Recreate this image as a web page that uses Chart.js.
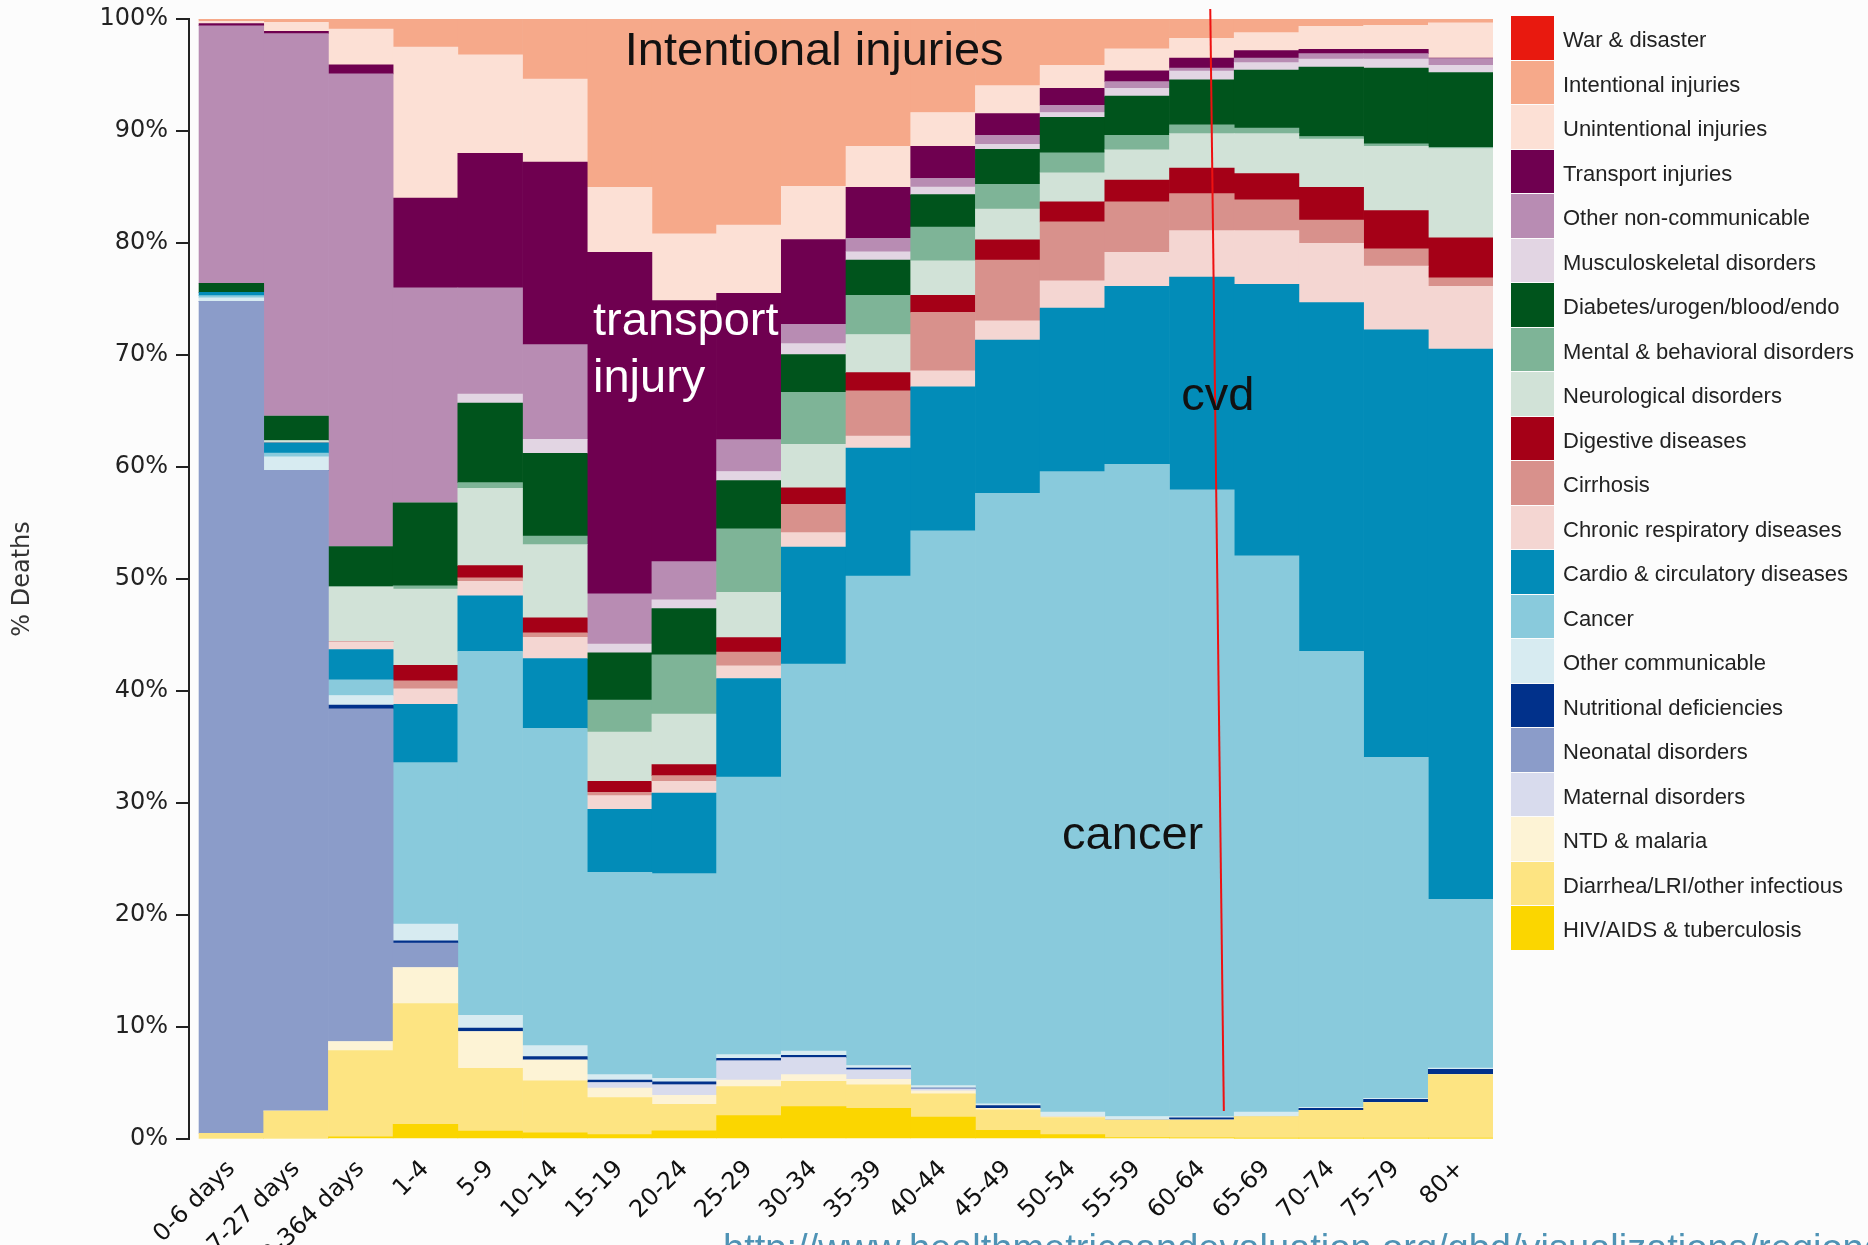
<!DOCTYPE html>
<html><head><meta charset="utf-8">
<script src="https://cdn.jsdelivr.net/npm/chart.js@4.4.1/dist/chart.umd.min.js"></script>
<style>
html,body{margin:0;padding:0;background:#fcfcfc;overflow:hidden;}
#wrap{position:relative;width:1868px;height:1245px;}
#legend{position:absolute;left:1511px;top:16px;font-family:"Liberation Sans",Arial,sans-serif;font-size:22px;color:#222;}
.li{display:flex;align-items:flex-start;height:44.5px;white-space:nowrap;}
.sw{width:43px;height:43.5px;margin-right:9px;flex:none;}
.tx{line-height:44px;position:relative;top:2px;}
</style></head><body>
<div id="wrap"><canvas id="c" width="1868" height="1245"></canvas><div id="legend"></div></div>
<script>
// ---------- DATA (% of deaths) ----------
const categories = ['0-6 days','7-27 days','28-364 days','1-4','5-9','10-14','15-19','20-24','25-29','30-34','35-39','40-44','45-49','50-54','55-59','60-64','65-69','70-74','75-79','80+'];

const hivTb        = [0, 0, 0.2, 1.3, 0.7, 0.55, 0.39, 0.72, 2.08, 2.89, 2.73, 1.95, 0.78, 0.39, 0.13, 0.1, 0.07, 0.07, 0.07, 0.07];
const diarrheaLri  = [0.5, 2.5, 7.7, 10.8, 5.6, 4.65, 3.31, 2.37, 2.6, 2.27, 2.11, 2.08, 1.82, 1.52, 1.56, 1.6, 1.94, 2.5, 3.18, 5.68];
const ntdMalaria   = [0, 0, 0.8, 3.2, 3.3, 1.85, 0.85, 0.81, 0.58, 0.59, 0.48, 0.26, 0.13, 0.1, 0, 0, 0, 0, 0, 0];
const maternal     = [0, 0, 0, 0, 0, 0, 0.48, 0.94, 1.72, 1.52, 0.85, 0.2, 0, 0, 0, 0, 0, 0, 0, 0];
const neonatal     = [74.3, 57.2, 29.7, 2.2, 0, 0, 0, 0, 0, 0, 0, 0, 0, 0, 0, 0, 0, 0, 0, 0];
const nutritional  = [0, 0, 0.35, 0.2, 0.3, 0.32, 0.23, 0.26, 0.22, 0.2, 0.16, 0.06, 0.26, 0, 0, 0.2, 0, 0.16, 0.29, 0.48];
const otherComm    = [0.3, 1.2, 0.85, 1.5, 1.15, 0.97, 0.49, 0.32, 0.33, 0.38, 0.23, 0.22, 0.16, 0.39, 0.32, 0.1, 0.39, 0.1, 0.1, 0.1];
const cancer       = [0.2, 0.35, 1.4, 14.4, 32.5, 28.33, 18.07, 18.27, 24.79, 34.56, 43.69, 49.53, 54.5, 57.19, 58.23, 55.97, 49.67, 40.72, 30.43, 15.06];
const cardio       = [0.3, 0.9, 2.7, 5.2, 4.95, 6.23, 5.61, 7.2, 8.79, 10.43, 11.45, 12.85, 13.69, 14.6, 15.9, 18.98, 24.23, 31.13, 38.18, 49.14];
const chronicResp  = [0, 0, 0.7, 1.4, 1.3, 1.9, 1.23, 1.04, 1.14, 1.3, 1.07, 1.43, 1.72, 2.44, 3.02, 4.16, 4.81, 5.29, 5.68, 5.61];
const cirrhosis    = [0, 0, 0, 0.7, 0.3, 0.4, 0.3, 0.52, 1.23, 2.53, 4.03, 5.22, 5.42, 5.25, 4.51, 3.3, 2.75, 2.08, 1.55, 0.75];
const digestive    = [0, 0, 0, 1.4, 1.1, 1.33, 0.97, 0.97, 1.3, 1.46, 1.62, 1.53, 1.81, 1.79, 1.95, 2.28, 2.34, 2.92, 3.41, 3.57];
const neurological = [0, 0.2, 4.9, 6.8, 6.9, 6.54, 4.41, 4.51, 4.02, 3.9, 3.41, 3.08, 2.73, 2.59, 2.69, 3.08, 3.57, 4.31, 5.74, 7.98];
const mental       = [0, 0, 0, 0.3, 0.5, 0.76, 2.86, 5.29, 5.67, 4.64, 3.5, 3.02, 2.21, 1.79, 1.3, 0.78, 0.48, 0.23, 0.23, 0.1];
const diabetes     = [0.8, 2.2, 3.6, 7.4, 7.1, 7.4, 4.2, 4.15, 4.31, 3.37, 3.15, 2.89, 3.14, 3.18, 3.5, 4.02, 5.2, 6.2, 6.75, 6.68];
const musculo      = [0, 0, 0, 0, 0.8, 1.25, 0.8, 0.78, 0.82, 0.97, 0.74, 0.68, 0.43, 0.42, 0.71, 0.78, 0.65, 0.71, 0.81, 0.65];
const otherNonComm = [23.0, 34.15, 42.2, 19.2, 9.5, 8.45, 4.47, 3.4, 2.85, 1.72, 1.2, 0.78, 0.81, 0.65, 0.59, 0.26, 0.42, 0.49, 0.49, 0.6];
const transport    = [0.2, 0.2, 0.8, 8.0, 12.0, 16.3, 30.5, 23.3, 13.05, 7.57, 4.55, 2.85, 1.94, 1.52, 0.97, 0.91, 0.65, 0.39, 0.39, 0.05];
const unintentional= [0.2, 0.8, 3.2, 13.5, 8.8, 7.4, 5.8, 5.96, 6.1, 4.76, 3.66, 3.02, 2.5, 2.05, 1.95, 1.75, 1.62, 2.04, 2.14, 3.14];
const intentional  = [0.2, 0.3, 0.9, 2.5, 3.2, 5.4, 15.0, 19.2, 18.4, 14.94, 11.37, 8.35, 5.95, 4.13, 2.67, 1.73, 1.21, 0.66, 0.56, 0.34];
const warDisaster  = [0, 0, 0, 0, 0, 0, 0, 0, 0, 0, 0, 0, 0, 0, 0, 0, 0, 0, 0, 0];

// stacked bottom -> top
const seriesNames = ['HIV/AIDS & tuberculosis','Diarrhea/LRI/other infectious','NTD & malaria','Maternal disorders','Neonatal disorders','Nutritional deficiencies','Other communicable','Cancer','Cardio & circulatory diseases','Chronic respiratory diseases','Cirrhosis','Digestive diseases','Neurological disorders','Mental & behavioral disorders','Diabetes/urogen/blood/endo','Musculoskeletal disorders','Other non-communicable','Transport injuries','Unintentional injuries','Intentional injuries','War & disaster'];
const seriesValues = [hivTb, diarrheaLri, ntdMalaria, maternal, neonatal, nutritional, otherComm, cancer, cardio, chronicResp, cirrhosis, digestive, neurological, mental, diabetes, musculo, otherNonComm, transport, unintentional, intentional, warDisaster];

const yTickValues = [0,10,20,30,40,50,60,70,80,90,100];

// annotations in data units (x: category index units, y: %)
const annotationTexts = [
  {text:'Intentional injuries', x:6.58, y:95.9, color:'#111'},
  {text:'transport', x:6.09, y:71.8, color:'#ffffff'},
  {text:'injury', x:6.09, y:66.7, color:'#ffffff'},
  {text:'cvd', x:15.18, y:65.1, color:'#111'},
  {text:'cancer', x:13.34, y:25.9, color:'#111'}
];
const redLine = {x1:15.63, y1:100.9, x2:15.84, y2:2.5};
const sourceUrl = {text:'http://www.healthmetricsandevaluation.org/gbd/visualizations/regional', x:8.1, y:-10.9};

// ---------- STYLE ----------
const seriesColors = ['#fbd600','#fde482','#fdf3d5','#d8dbed','#8b9cc9','#01318b','#d7ebf1','#89cadc','#028cb8','#f4d6d2','#d8918c','#a50017','#d1e2d7','#7eb497','#00541c','#e2d5e3','#b88cb3','#6f0050','#fce0d5','#f6a98a','#e8190f'];

const datasets = seriesNames.map((name, k) => ({
  label: name,
  data: seriesValues[k].map((v, i) => ({x: i + 0.5, y: v})),
  backgroundColor: seriesColors[k],
  borderWidth: 0,
  barPercentage: 1,
  categoryPercentage: 1
}));

const annotationPlugin = {
  id: 'annot',
  afterDatasetsDraw(chart) {
    const {ctx, scales: {x, y}} = chart;
    ctx.save();
    ctx.strokeStyle = '#ee1111';
    ctx.lineWidth = 2;
    ctx.beginPath();
    ctx.moveTo(x.getPixelForValue(redLine.x1), y.getPixelForValue(redLine.y1));
    ctx.lineTo(x.getPixelForValue(redLine.x2), y.getPixelForValue(redLine.y2));
    ctx.stroke();
    ctx.font = '47px "Liberation Sans", Arial, sans-serif';
    ctx.textBaseline = 'alphabetic';
    ctx.textAlign = 'left';
    annotationTexts.forEach(a => {
      ctx.fillStyle = a.color;
      ctx.fillText(a.text, x.getPixelForValue(a.x), y.getPixelForValue(a.y));
    });
    ctx.font = '38px "Liberation Sans", Arial, sans-serif';
    ctx.fillStyle = '#4f93b5';
    ctx.fillText(sourceUrl.text, x.getPixelForValue(sourceUrl.x), y.getPixelForValue(sourceUrl.y));
    ctx.restore();
  }
};

const htmlLegend = {
  id: 'htmlLegend',
  afterUpdate(chart) {
    const box = document.getElementById('legend');
    box.innerHTML = '';
    chart.data.datasets.slice().reverse().forEach(ds => {
      const row = document.createElement('div');
      row.className = 'li';
      const sw = document.createElement('span');
      sw.className = 'sw';
      sw.style.background = ds.backgroundColor;
      const t = document.createElement('span');
      t.className = 'tx';
      t.textContent = ds.label;
      row.appendChild(sw); row.appendChild(t);
      box.appendChild(row);
    });
  }
};

new Chart(document.getElementById('c'), {
  type: 'bar',
  data: { datasets },
  plugins: [annotationPlugin, htmlLegend],
  options: {
    responsive: false,
    animation: false,
    events: [],
    layout: { padding: { top: 19, right: 375, bottom: 0, left: 0 } },
    plugins: { legend: { display: false }, tooltip: { enabled: false } },
    scales: {
      x: {
        type: 'linear',
        offset: false,
        stacked: true,
        min: -0.155,
        max: 20,
        grid: { display: false, offset: false },
        border: { display: false },
        afterBuildTicks: s => { s.ticks = categories.map((c, i) => ({ value: i + 0.5 })); },
        afterFit: s => { s.height = 106; s.paddingLeft = 0; s.paddingRight = 0; },
        ticks: {
          autoSkip: false,
          minRotation: 45,
          maxRotation: 45,
          padding: 8,
          color: '#111',
          font: { family: 'DejaVu Sans', size: 24 },
          callback: v => categories[Math.round(v - 0.5)]
        }
      },
      y: {
        stacked: true,
        min: 0,
        max: 100,
        afterBuildTicks: s => { s.ticks = yTickValues.map(v => ({ value: v })); },
        afterFit: s => { s.width = 189; s.paddingTop = 0; s.paddingBottom = 0; },
        border: { display: true, color: '#222', width: 2 },
        grid: { display: true, drawOnChartArea: false, drawTicks: true, tickLength: 13, color: '#222', lineWidth: 2 },
        ticks: {
          padding: 8,
          color: '#222',
          font: { family: 'DejaVu Sans', size: 24 },
          callback: v => v + '%'
        },
        title: {
          display: true,
          text: '% Deaths',
          color: '#333',
          font: { family: 'DejaVu Sans', size: 24 },
          padding: { top: 8, bottom: 0 }
        }
      }
    }
  }
});
</script>
</body></html>
